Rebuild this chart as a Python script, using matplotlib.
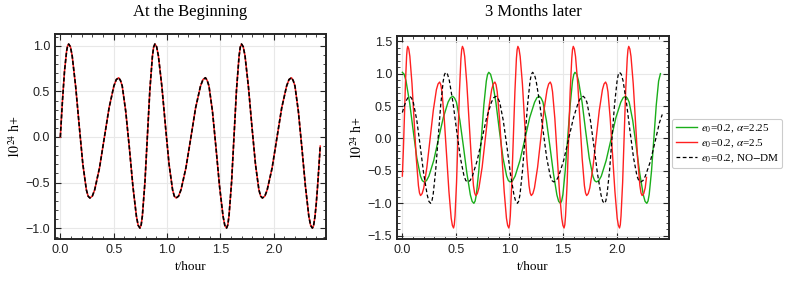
import matplotlib
matplotlib.use("Agg")
import matplotlib.pyplot as plt
from matplotlib.ticker import MultipleLocator
from matplotlib.lines import Line2D

# ---------------- data ----------------
# Left panel: "At the Beginning" (red solid + black dashed, same curve)
left_t = [0.000, 0.0195, 0.039, 0.0585, 0.068,
          0.078, 0.0946, 0.111, 0.144, 0.178, 0.211, 0.244, 0.2604,
          0.277, 0.2995, 0.322, 0.367, 0.412, 0.457, 0.502, 0.5245,
          0.547, 0.5636, 0.580, 0.613, 0.647, 0.680, 0.713, 0.7294,
          0.746, 0.7577, 0.769, 0.793, 0.816, 0.839, 0.863, 0.8743,
          0.886, 0.9026, 0.919, 0.952, 0.986, 1.019, 1.052, 1.0684,
          1.085, 1.1079, 1.131, 1.177, 1.223, 1.268, 1.314, 1.3371,
          1.360, 1.3765, 1.393, 1.426, 1.459, 1.492, 1.525, 1.5415,
          1.558, 1.5697, 1.581, 1.605, 1.628, 1.651, 1.675, 1.6863,
          1.698, 1.7143, 1.731, 1.763, 1.796, 1.829, 1.861, 1.8777,
          1.894, 1.9167, 1.939, 1.985, 2.030, 2.075, 2.121, 2.1433,
          2.166, 2.1823, 2.199, 2.231, 2.264, 2.297, 2.329, 2.3457,
          2.362, 2.368, 2.374, 2.386, 2.398, 2.410, 2.422, 2.436]
left_h = [0.00, 0.39, 0.72, 0.94, 1.00,
          1.02, 0.99, 0.89, 0.55, 0.11, -0.30, -0.58, -0.65,
          -0.67, -0.65, -0.58, -0.34, -0.01, 0.32, 0.56, 0.63,
          0.65, 0.62, 0.56, 0.28, -0.12, -0.54, -0.87, -0.97,
          -1.00, -0.965, -0.865, -0.495, 0.01, 0.515, 0.885, 0.985,
          1.02, 0.99, 0.89, 0.55, 0.11, -0.30, -0.58, -0.65,
          -0.67, -0.65, -0.58, -0.34, -0.01, 0.32, 0.56, 0.63,
          0.65, 0.62, 0.56, 0.28, -0.12, -0.54, -0.87, -0.97,
          -1.00, -0.965, -0.865, -0.495, 0.01, 0.515, 0.885, 0.985,
          1.02, 0.99, 0.89, 0.55, 0.11, -0.30, -0.58, -0.65,
          -0.67, -0.65, -0.58, -0.34, -0.01, 0.32, 0.56, 0.63,
          0.65, 0.62, 0.56, 0.28, -0.12, -0.54, -0.87, -0.97,
          -1.00, -0.99, -0.97, -0.88, -0.74, -0.56, -0.35, -0.10]

# Right panel: "3 Months later"
green_t = [0.000, 0.0169, 0.034, 0.068, 0.102, 0.135, 0.169, 0.1861,
           0.203, 0.2254, 0.248, 0.293, 0.337, 0.382, 0.427, 0.4496,
           0.472, 0.4883, 0.505, 0.537, 0.570, 0.603, 0.635, 0.6517,
           0.668, 0.6796, 0.691, 0.714, 0.738, 0.761, 0.784, 0.7954,
           0.807, 0.8237, 0.840, 0.874, 0.907, 0.940, 0.974, 0.9903,
           1.007, 1.0298, 1.053, 1.098, 1.144, 1.189, 1.235, 1.2572,
           1.280, 1.2963, 1.313, 1.345, 1.378, 1.411, 1.443, 1.4597,
           1.476, 1.4873, 1.499, 1.521, 1.544, 1.567, 1.589, 1.6007,
           1.612, 1.6287, 1.645, 1.679, 1.712, 1.745, 1.779, 1.7953,
           1.812, 1.8348, 1.858, 1.903, 1.949, 1.994, 2.040, 2.0622,
           2.085, 2.1015, 2.118, 2.151, 2.184, 2.217, 2.250, 2.2665,
           2.283, 2.294, 2.305, 2.327, 2.349, 2.371, 2.393, 2.410]
green_h = [1.02, 0.99, 0.89, 0.55, 0.11, -0.30, -0.58, -0.65,
           -0.67, -0.65, -0.58, -0.34, -0.01, 0.32, 0.56, 0.63,
           0.65, 0.62, 0.56, 0.28, -0.12, -0.54, -0.87, -0.97,
           -1.00, -0.965, -0.865, -0.495, 0.01, 0.515, 0.885, 0.985,
           1.02, 0.99, 0.89, 0.55, 0.11, -0.30, -0.58, -0.65,
           -0.67, -0.65, -0.58, -0.34, -0.01, 0.32, 0.56, 0.63,
           0.65, 0.62, 0.56, 0.28, -0.12, -0.54, -0.87, -0.97,
           -1.00, -0.965, -0.865, -0.495, 0.01, 0.515, 0.885, 0.985,
           1.02, 0.99, 0.89, 0.55, 0.11, -0.30, -0.58, -0.65,
           -0.67, -0.65, -0.58, -0.34, -0.01, 0.32, 0.56, 0.63,
           0.65, 0.62, 0.56, 0.28, -0.12, -0.54, -0.87, -0.97,
           -1.00, -0.965, -0.865, -0.495, 0.01, 0.515, 0.885, 1.00]

red_t = [0.000, 0.010, 0.020, 0.030, 0.040, 0.045,
         0.050, 0.060, 0.070, 0.090, 0.110, 0.130, 0.150, 0.160,
         0.170, 0.1848, 0.200, 0.229, 0.259, 0.289, 0.318, 0.3332,
         0.348, 0.3588, 0.370, 0.391, 0.413, 0.435, 0.456, 0.4672,
         0.478, 0.4849, 0.492, 0.506, 0.5195, 0.533, 0.547, 0.5541,
         0.561, 0.5713, 0.582, 0.602, 0.623, 0.644, 0.664, 0.6747,
         0.685, 0.6999, 0.715, 0.745, 0.7745, 0.804, 0.834, 0.8491,
         0.864, 0.8748, 0.886, 0.907, 0.929, 0.951, 0.972, 0.9832,
         0.994, 1.0011, 1.008, 1.022, 1.0365, 1.051, 1.065, 1.0719,
         1.079, 1.0894, 1.100, 1.121, 1.1415, 1.162, 1.183, 1.1936,
         1.204, 1.2188, 1.2335, 1.263, 1.2925, 1.322, 1.3515, 1.3662,
         1.381, 1.3918, 1.4025, 1.424, 1.4455, 1.467, 1.4885, 1.4992,
         1.510, 1.5172, 1.524, 1.539, 1.553, 1.567, 1.582, 1.5888,
         1.596, 1.6064, 1.617, 1.638, 1.6585, 1.679, 1.700, 1.7106,
         1.721, 1.7358, 1.7505, 1.780, 1.8095, 1.839, 1.8685, 1.8832,
         1.898, 1.9088, 1.920, 1.941, 1.963, 1.985, 2.006, 2.0172,
         2.028, 2.0352, 2.042, 2.057, 2.071, 2.085, 2.100, 2.1068,
         2.114, 2.1244, 2.135, 2.156, 2.1765, 2.197, 2.218, 2.2286,
         2.239, 2.254, 2.268, 2.280]
red_h = [-0.58, -0.15, 0.38, 0.90, 1.28, 1.38,
         1.42, 1.38, 1.266, 0.845, 0.27, -0.305, -0.726, -0.84,
         -0.88, -0.85, -0.763, -0.443, -0.005, 0.433, 0.753, 0.84,
         0.87, 0.83, 0.719, 0.308, -0.255, -0.818, -1.229, -1.34,
         -1.38, -1.33, -1.192, -0.68, 0.02, 0.72, 1.232, 1.37,
         1.42, 1.38, 1.266, 0.845, 0.27, -0.305, -0.726, -0.84,
         -0.88, -0.85, -0.763, -0.443, -0.005, 0.433, 0.753, 0.84,
         0.87, 0.83, 0.719, 0.308, -0.255, -0.818, -1.229, -1.34,
         -1.38, -1.33, -1.192, -0.68, 0.02, 0.72, 1.232, 1.37,
         1.42, 1.38, 1.266, 0.845, 0.27, -0.305, -0.726, -0.84,
         -0.88, -0.85, -0.763, -0.443, -0.005, 0.433, 0.753, 0.84,
         0.87, 0.83, 0.719, 0.308, -0.255, -0.818, -1.229, -1.34,
         -1.38, -1.33, -1.192, -0.68, 0.02, 0.72, 1.232, 1.37,
         1.42, 1.38, 1.266, 0.845, 0.27, -0.305, -0.726, -0.84,
         -0.88, -0.85, -0.763, -0.443, -0.005, 0.433, 0.753, 0.84,
         0.87, 0.83, 0.719, 0.308, -0.255, -0.818, -1.229, -1.34,
         -1.38, -1.33, -1.192, -0.68, 0.02, 0.72, 1.232, 1.37,
         1.42, 1.38, 1.266, 0.845, 0.27, -0.305, -0.726, -0.84,
         -0.88, -0.85, -0.76, -0.60]

black_t = [0.000, 0.0175, 0.035, 0.0525, 0.061,
           0.070, 0.0862, 0.102, 0.135, 0.167, 0.199, 0.232, 0.2478,
           0.264, 0.2758, 0.2875, 0.311, 0.3345, 0.358, 0.3815, 0.3932,
           0.405, 0.4221, 0.439, 0.473, 0.508, 0.542, 0.576, 0.5929,
           0.610, 0.6322, 0.654, 0.699, 0.743, 0.787, 0.832, 0.8538,
           0.876, 0.8926, 0.909, 0.942, 0.976, 1.009, 1.042, 1.0584,
           1.075, 1.0868, 1.0985, 1.122, 1.1455, 1.169, 1.1925, 1.2042,
           1.216, 1.2325, 1.249, 1.282, 1.315, 1.348, 1.381, 1.3975,
           1.414, 1.437, 1.460, 1.506, 1.552, 1.598, 1.644, 1.667,
           1.690, 1.7065, 1.723, 1.756, 1.789, 1.822, 1.855, 1.8715,
           1.888, 1.8997, 1.911, 1.935, 1.958, 1.981, 2.005, 2.0163,
           2.028, 2.0443, 2.061, 2.093, 2.126, 2.159, 2.191, 2.2077,
           2.224, 2.2467, 2.269, 2.315, 2.360, 2.400, 2.427]
black_h = [0.40, 0.50, 0.58, 0.63, 0.645,
           0.65, 0.62, 0.56, 0.28, -0.12, -0.54, -0.87, -0.97,
           -1.00, -0.965, -0.865, -0.495, 0.01, 0.515, 0.885, 0.985,
           1.02, 0.99, 0.89, 0.55, 0.11, -0.30, -0.58, -0.65,
           -0.67, -0.65, -0.58, -0.34, -0.01, 0.32, 0.56, 0.63,
           0.65, 0.62, 0.56, 0.28, -0.12, -0.54, -0.87, -0.97,
           -1.00, -0.965, -0.865, -0.495, 0.01, 0.515, 0.885, 0.985,
           1.02, 0.99, 0.89, 0.55, 0.11, -0.30, -0.58, -0.65,
           -0.67, -0.65, -0.58, -0.34, -0.01, 0.32, 0.56, 0.63,
           0.65, 0.62, 0.56, 0.28, -0.12, -0.54, -0.87, -0.97,
           -1.00, -0.965, -0.865, -0.495, 0.01, 0.515, 0.885, 0.985,
           1.02, 0.99, 0.89, 0.55, 0.11, -0.30, -0.58, -0.65,
           -0.67, -0.65, -0.58, -0.36, -0.05, 0.24, 0.37]

titles = ["At the Beginning", "3 Months later"]
legend_labels = [r"$e_0$=0.2, $\alpha$=2.25", r"$e_0$=0.2, $\alpha$=2.5",
                 r"$e_0$=0.2, NO$-$DM"]
x_label = "t/hour"
y_label = r"$10^{24}$ h+"

# ---------------- styling ----------------
plt.rcParams['mathtext.fontset'] = 'stix'
SERIF = 'Liberation Serif'
SANS = 'Liberation Sans'
GREEN = '#1aae1a'
RED = '#ff2020'
FRAME = '#262626'

fig = plt.figure(figsize=(7.89, 2.83), dpi=100)
ax1 = fig.add_axes([55/789, 44/283, 271/789, 205/283])
ax2 = fig.add_axes([397/789, 44/283, 272/789, 203/283])


def fmt(v, p):
    return f"{v:.1f}".replace('-', '\u2212')


def style(ax, ylim):
    ax.set_xlim(-0.05, 2.49)
    ax.set_ylim(*ylim)
    ax.xaxis.set_major_locator(MultipleLocator(0.5))
    ax.xaxis.set_minor_locator(MultipleLocator(0.1))
    ax.yaxis.set_major_locator(MultipleLocator(0.5))
    ax.yaxis.set_minor_locator(MultipleLocator(0.1))
    ax.xaxis.set_major_formatter(plt.FuncFormatter(fmt))
    ax.yaxis.set_major_formatter(plt.FuncFormatter(fmt))
    ax.grid(True, which='major', color='#e8e8e8', lw=0.8)
    ax.set_axisbelow(True)
    for s in ax.spines.values():
        s.set_color(FRAME)
        s.set_linewidth(1.4)
    ax.tick_params(which='both', direction='in', top=True, right=True,
                   color=FRAME, labelcolor='#222222')
    ax.tick_params(which='major', length=4, width=0.8, pad=3.5, labelsize=9)
    ax.tick_params(which='minor', length=2, width=0.6)
    for lab in ax.get_xticklabels() + ax.get_yticklabels():
        lab.set_fontfamily(SANS)
    ax.set_xlabel(x_label, fontfamily=SERIF, fontsize=9.5, labelpad=4)
    ax.set_ylabel(y_label, fontfamily=SERIF, fontsize=10, labelpad=2)


style(ax1, (-1.12, 1.13))
style(ax2, (-1.55, 1.58))

ax1.set_title(titles[0], fontfamily=SERIF, fontsize=12, pad=13)
ax2.set_title(titles[1], fontfamily=SERIF, fontsize=12, pad=14.5)

# left panel curves
ax1.plot(left_t, left_h, color=RED, lw=1.1, solid_joinstyle='round')
ax1.plot(left_t, left_h, color='black', lw=1.2, ls=(0, (2.5, 1.2)))

# right panel curves
ax2.plot(green_t, green_h, color=GREEN, lw=1.0, solid_joinstyle='round')
ax2.plot(red_t, red_h, color=RED, lw=1.0, solid_joinstyle='round')
ax2.plot(black_t, black_h, color='black', lw=0.9, ls=(0, (3, 2)))

handles = [Line2D([], [], color=GREEN, lw=1.0),
           Line2D([], [], color=RED, lw=1.0),
           Line2D([], [], color='black', lw=0.9, ls=(0, (3, 2)))]
leg = ax2.legend(handles, legend_labels, loc='center left',
                 bbox_to_anchor=(1.012, 0.47), frameon=True, fancybox=True,
                 prop={'family': SERIF, 'size': 8}, handlelength=1.9,
                 handletextpad=0.35, borderpad=0.3, labelspacing=0.25,
                 borderaxespad=0.0)
leg.get_frame().set_edgecolor('#c0c0c0')
leg.get_frame().set_linewidth(0.8)

fig.savefig("out.png", dpi=100)
